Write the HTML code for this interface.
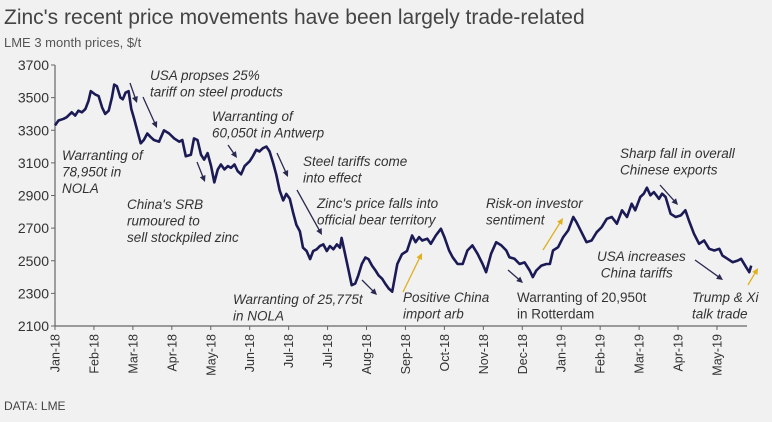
<!DOCTYPE html>
<html><head><meta charset="utf-8"><style>
body{margin:0;background:#f1f1f1;width:772px;height:417px;overflow:hidden;font-family:"Liberation Sans",sans-serif}
svg text{font-family:"Liberation Sans",sans-serif}
</style></head><body>
<svg id="chart" width="772" height="417" xmlns="http://www.w3.org/2000/svg">
<rect width="772" height="417" fill="#f1f1f1"/>
<text x="4" y="24" font-size="21" fill="#444">Zinc's recent price movements have been largely trade-related</text>
<text x="4" y="47" font-size="13" fill="#555">LME 3 month prices, $/t</text>
<text x="4" y="410" font-size="12" fill="#444">DATA: LME</text>
<g id="axes"></g>
<g id="series"></g>
<g id="notes" font-size="13.5" fill="#333" font-style="italic"></g>
</svg>
<script>
const months = [0,.09,.22,.30,.43,.52,.60,.69,.78,.86,.92,1.03,1.12,1.21,1.29,1.38,1.46,1.52,1.59,1.68,1.74,1.81,1.89,1.96,2.02,2.11,2.20,2.28,2.37,2.45,2.54,2.67,2.80,2.93,3.06,3.19,3.27,3.36,3.49,3.57,3.66,3.75,3.83,3.92,4.01,4.09,4.18,4.26,4.35,4.44,4.52,4.61,4.69,4.78,4.87,5.00,5.08,5.17,5.25,5.34,5.43,5.51,5.60,5.68,5.77,5.86,5.94,6.03,6.12,6.20,6.29,6.37,6.46,6.55,6.63,6.72,6.80,6.89,6.98,7.06,7.15,7.24,7.32,7.36,7.45,7.54,7.62,7.71,7.79,7.88,7.97,8.05,8.14,8.23,8.31,8.40,8.48,8.57,8.66,8.79,8.91,9.04,9.17,9.26,9.35,9.43,9.56,9.65,9.78,9.91,10.00,10.12,10.21,10.34,10.47,10.59,10.72,10.85,10.98,11.07,11.20,11.33,11.46,11.59,11.67,11.80,11.93,12.06,12.19,12.27,12.36,12.49,12.62,12.71,12.79,12.92,13.05,13.18,13.31,13.39,13.52,13.65,13.78,13.91,14.04,14.17,14.30,14.43,14.56,14.69,14.81,14.90,15.03,15.12,15.20,15.29,15.38,15.51,15.59,15.68,15.81,15.94,16.07,16.19,16.28,16.41,16.54,16.67,16.80,16.93,17.06,17.14,17.27,17.40,17.53,17.62,17.75,17.83,17.88];
const prices = [3330,3360,3370,3380,3410,3390,3420,3410,3430,3480,3540,3520,3510,3440,3400,3420,3500,3580,3570,3500,3490,3530,3540,3430,3380,3300,3220,3240,3280,3260,3240,3230,3300,3280,3250,3230,3240,3140,3150,3250,3240,3150,3120,3160,3080,2980,3060,3090,3060,3080,3070,3090,3050,3030,3080,3110,3140,3180,3170,3190,3200,3170,3100,3030,2930,2870,2910,2880,2790,2720,2680,2580,2560,2510,2560,2570,2590,2600,2560,2590,2570,2600,2580,2640,2540,2440,2350,2360,2410,2480,2520,2510,2470,2440,2410,2390,2360,2330,2310,2480,2540,2560,2655,2614,2645,2624,2635,2604,2655,2696,2645,2563,2522,2480,2480,2563,2594,2543,2480,2430,2543,2614,2594,2563,2522,2512,2480,2490,2440,2400,2440,2470,2480,2480,2563,2583,2645,2686,2768,2737,2675,2614,2624,2675,2706,2757,2768,2727,2809,2768,2850,2809,2891,2911,2948,2901,2921,2880,2911,2891,2788,2768,2778,2809,2747,2665,2604,2624,2573,2563,2573,2532,2512,2491,2501,2512,2460,2430,2470];
const monthLabels = ["Jan-18","Feb-18","Mar-18","Apr-18","May-18","Jun-18","Jul-18","Jul-18","Aug-18","Sep-18","Oct-18","Nov-18","Dec-18","Jan-19","Feb-19","Mar-19","Apr-19","May-19"];
const yTicks = [2100,2300,2500,2700,2900,3100,3300,3500,3700];

const NS="http://www.w3.org/2000/svg";
const X0=55,XS=38.94,Y0=326,Y1=65,VMIN=2100,VMAX=3700;
const xs=m=>X0+m*XS;
const ys=v=>Y0-(v-VMIN)/(VMAX-VMIN)*(Y0-Y1);
function mk(tag,attrs,parent){const e=document.createElementNS(NS,tag);for(const k in attrs)e.setAttribute(k,attrs[k]);parent.appendChild(e);return e;}
const axes=document.getElementById('axes');
let yl=mk('line',{x1:X0,y1:Y1,x2:X0,y2:Y0,stroke:'#666','stroke-width':1.2},axes);


let xl=mk('line',{x1:X0,y1:Y0,x2:747,y2:Y0,stroke:'#666','stroke-width':1.2},axes);


yTicks.forEach(v=>{
  const t=mk('line',{x1:X0-4,y1:ys(v),x2:X0,y2:ys(v),stroke:'#666'},axes);
  
  
  const l=mk('text',{x:X0-6,y:ys(v)+5,'text-anchor':'end','font-size':14,fill:'#333'},axes);
  l.textContent=v;
  
  
});
monthLabels.forEach((s,i)=>{
  const x=xs(i);
  const t=mk('line',{x1:x,y1:Y0,x2:x,y2:Y0+4,stroke:'#666'},axes);
  
  
  const l=mk('text',{x:0,y:0,'text-anchor':'end','font-size':12.5,fill:'#333',transform:`translate(${x+4.5},${Y0+8}) rotate(-90)`},axes);
  l.textContent=s;
  
  
});
const pts=months.map((m,i)=>xs(m).toFixed(1)+','+ys(prices[i]).toFixed(1)).join(' ');
const pl=mk('polyline',{points:pts,fill:'none',stroke:'#1b1a55','stroke-width':2.6,'stroke-linejoin':'round'},document.getElementById('series'));



const notes=document.getElementById('notes');
const texts=[
 [150,80,["USA propses 25%","tariff on steel products"],'note-usa-steel-tariff',1],
 [212,121,["Warranting of","60,050t in Antwerp"],'note-antwerp',1],
 [62,160,["Warranting of","78,950t in","NOLA"],'note-nola-78950',1],
 [303,166,["Steel tariffs come","into effect"],'note-steel-tariffs',1],
 [127,209,["China's SRB","rumoured to","sell stockpiled zinc"],'note-china-srb',1],
 [317,208,["Zinc's price falls into","official bear territory"],'note-bear-territory',1],
 [233,304,["Warranting of 25,775t","in NOLA"],'note-nola-25775',1],
 [403,302,["Positive China","import arb"],'note-china-import-arb',1],
 [486,208,["Risk-on investor","sentiment"],'note-risk-on',1],
 [517,302,["Warranting of 20,950t","in Rotterdam"],'note-rotterdam',0],
 [620,158,["Sharp fall in overall","Chinese exports"],'note-chinese-exports',1],
 [597,261,["USA increases"," China tariffs"],'note-usa-china-tariffs',1],
 [692,302,["Trump & Xi","talk trade"],'note-trump-xi',1]];
texts.forEach(([x,y,lines,name,it])=>{
  const t=mk('text',{x:x,y:y},notes);
  if(!it)t.setAttribute('font-style','normal');
  lines.forEach((s,i)=>{const sp=mk('tspan',{x:x,dy:i?16.5:0},t);sp.textContent=s;});
  
  
});
const arrows=[[130,83,137,103,'#2a2a50'],[143,97,157,128,'#2a2a50'],[197,162,205,182,'#2a2a50'],[228,145,237,158,'#2a2a50'],[277,153,288,177,'#2a2a50'],[297,190,322,235,'#2a2a50'],[362,280,377,295,'#2a2a50'],[403,292,422,253,'#e0b020'],[543,250,563,218,'#e0b020'],[508,270,523,283,'#2a2a50'],[660,185,678,205,'#2a2a50'],[695,260,723,280,'#2a2a50'],[748,285,758,268,'#e0b020']];
const ag=mk('g',{},notes);
arrows.forEach(([x1,y1,x2,y2,c])=>{
  const a=Math.atan2(y2-y1,x2-x1),h=7,w=0.45;
  const l=mk('line',{x1:x1,y1:y1,x2:x2-Math.cos(a)*4,y2:y2-Math.sin(a)*4,stroke:c,'stroke-width':1.3},ag);
  
  
  const p=mk('polygon',{points:`${x2},${y2} ${x2-h*Math.cos(a-w)},${y2-h*Math.sin(a-w)} ${x2-h*Math.cos(a+w)},${y2-h*Math.sin(a+w)}`,fill:c},ag);
  
  
});
</script>
</body></html>
